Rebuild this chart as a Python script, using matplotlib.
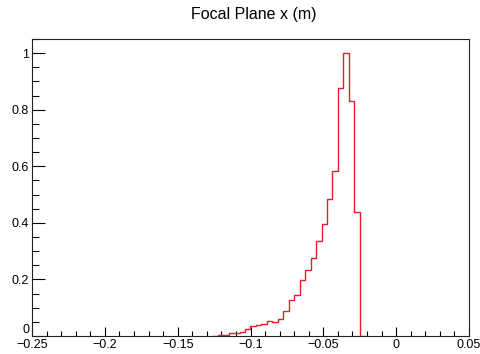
import numpy as np
import matplotlib.pyplot as plt
from matplotlib.ticker import MultipleLocator, FuncFormatter

plt.rcParams['font.family'] = ['Liberation Sans', 'DejaVu Sans']

# histogram: 80 bins between -0.25 and 0.05 (normalised to peak)
x_min, x_max, n_bins = -0.25, 0.05, 80
first_bin = 33
tail_counts = [0.001, 0.002, 0.005, 0.009, 0.011, 0.015, 0.023, 0.036,
               0.040, 0.043, 0.054, 0.050, 0.061, 0.090, 0.129, 0.144,
               0.197, 0.235, 0.275, 0.337, 0.397, 0.484, 0.584, 0.877,
               1.000, 0.830, 0.438]
counts = np.zeros(n_bins)
counts[first_bin:first_bin + len(tail_counts)] = tail_counts
edges = np.linspace(x_min, x_max, n_bins + 1)

fig = plt.figure(figsize=(4.81, 3.54), dpi=100)
ax = fig.add_axes([32 / 481, 18 / 354, 437 / 481, 297 / 354])

# only draw the part of the outline where the histogram has content
lo, hi = first_bin, first_bin + len(tail_counts) + 1
ax.stairs(counts[lo:hi], edges[lo:hi + 1], color='#e0202a', lw=1.0,
          baseline=0, zorder=3)

ax.set_xlim(x_min, x_max)
ax.set_ylim(0, 1.05)


def label(v, p):
    return ('%g' % round(v, 4)).replace('-', '\u2212')


def ylabel(v, p):
    # the zero is drawn separately, a bit higher
    return '' if abs(v) < 1e-9 else label(v, p)


ax.xaxis.set_major_locator(MultipleLocator(0.05))
ax.xaxis.set_minor_locator(MultipleLocator(0.01))
ax.yaxis.set_major_locator(MultipleLocator(0.2))
ax.yaxis.set_minor_locator(MultipleLocator(0.05))
ax.xaxis.set_major_formatter(FuncFormatter(label))
ax.yaxis.set_major_formatter(FuncFormatter(ylabel))

ax.tick_params(axis='x', which='major', direction='in', length=6.5, width=0.8,
               labelsize=9, pad=2)
ax.tick_params(axis='x', which='minor', direction='in', length=3.3, width=0.8)
ax.tick_params(axis='y', which='major', direction='in', length=9.2, width=0.8,
               labelsize=9, pad=2)
ax.tick_params(axis='y', which='minor', direction='in', length=5.2, width=0.8)
for s in ax.spines.values():
    s.set_linewidth(0.8)
    s.set_color('#222222')

ax.annotate('0', xy=(0, 0), xycoords='axes fraction', xytext=(-2, 0),
            textcoords='offset points', ha='right', va='bottom', fontsize=9)

fig.text(253.5 / 481, 1 - 14 / 354, 'Focal Plane x (m)', ha='center',
         va='center', fontsize=11.5)

fig.savefig('out.png', dpi=100)
